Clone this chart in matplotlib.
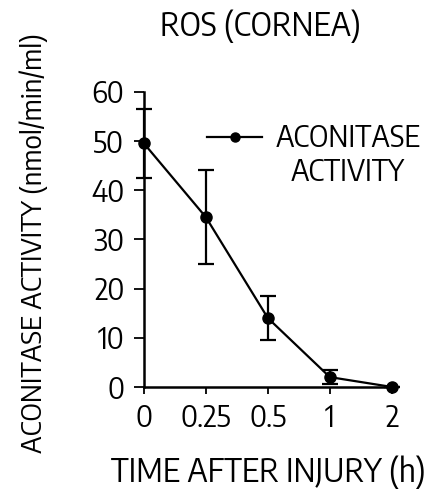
import numpy as np
import matplotlib
matplotlib.use('Agg')
import matplotlib.pyplot as plt
from matplotlib.lines import Line2D

plt.rcParams['font.family'] = ['Encode Sans Semi Condensed', 'DejaVu Sans']

time_labels = ['0', '0.25', '0.5', '1', '2']
activity = [49.5, 34.5, 14.0, 2.0, 0.0]
activity_err = [7.0, 9.5, 4.5, 1.5, 0.0]
y_ticks = [0, 10, 20, 30, 40, 50, 60]

fig = plt.figure(figsize=(4.32, 4.98), dpi=100)
ax = fig.add_axes([0.333, 0.223, 0.574, 0.593])

x_pos = np.arange(len(time_labels))
ax.errorbar(x_pos, activity, yerr=activity_err, color='black', lw=1.6,
            marker='o', markersize=8, capsize=5.5, capthick=1.6, elinewidth=1.6,
            clip_on=False, zorder=3)

ax.set_xlim(0, 4)
ax.set_ylim(0, 60)
ax.set_xticks(x_pos)
ax.set_xticklabels(time_labels)
ax.set_yticks(y_ticks)
for side in ['top', 'right']:
    ax.spines[side].set_visible(False)
for side in ['left', 'bottom']:
    ax.spines[side].set_linewidth(1.8)
ax.tick_params(axis='both', labelsize=21, width=1.3, direction='out')
ax.tick_params(axis='y', length=7, pad=7)
ax.tick_params(axis='x', length=5, pad=7)

ax.text(0.468, 1.187, 'ROS (CORNEA)', transform=ax.transAxes, fontsize=23,
        ha='center', va='baseline')
ax.set_xlabel('TIME AFTER INJURY (h)', fontsize=23, va='baseline')
ax.xaxis.set_label_coords(0.502, -0.322)
ax.set_ylabel('ACONITASE ACTIVITY (nmol/min/ml)', fontsize=20, va='baseline')
ax.yaxis.set_label_coords(-0.41, 0.488)

handle = Line2D([], [], color='black', lw=1.6, marker='o', markersize=6.5)
leg = ax.legend([handle], ['ACONITASE'], loc='upper left',
                bbox_to_anchor=(0.254, 0.892), frameon=False, fontsize=21,
                handlelength=1.9, handletextpad=0.45, borderpad=0,
                borderaxespad=0)
ax.annotate('ACTIVITY', xy=(0.5, 0), xycoords=leg.get_texts()[0],
            xytext=(0, -3), textcoords='offset points',
            ha='center', va='top', fontsize=21, zorder=6)

fig.canvas.draw()
fig.savefig('out.png', dpi=100)
